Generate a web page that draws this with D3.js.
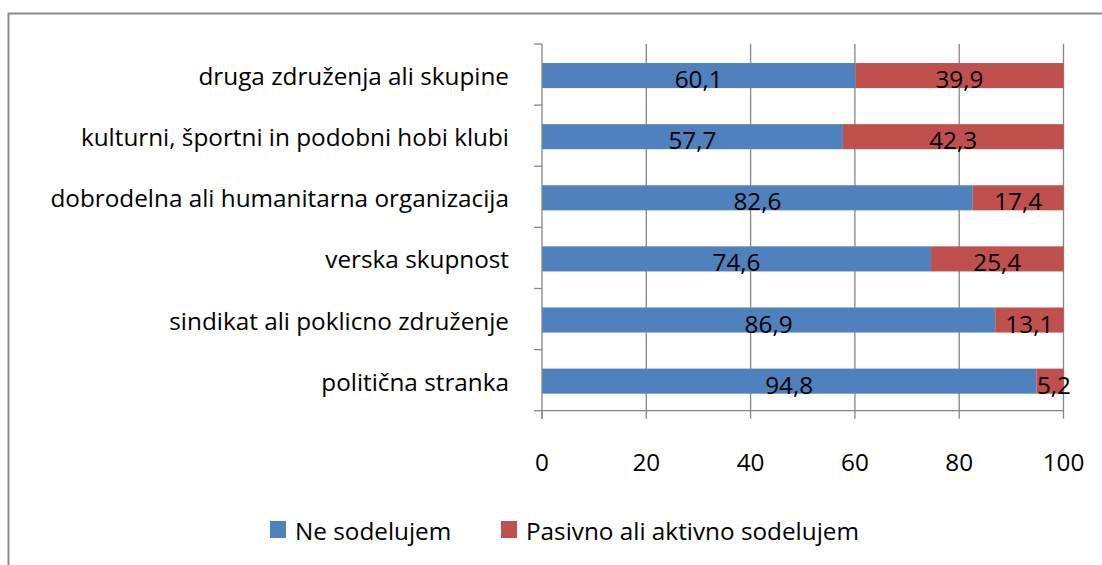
<!DOCTYPE html>
<html>
<head>
<meta charset="utf-8">
<script src="https://cdn.jsdelivr.net/npm/d3@7"></script>
<style>
  html, body { margin: 0; padding: 0; background: #fff; }
  svg { display: block; }
  text { font-family: "Open Sans", "DejaVu Sans", sans-serif; fill: #000; }
</style>
</head>
<body>
<svg id="chart" width="1102" height="565"></svg>
<script>
// Categories listed top to bottom
const categories = [
  "druga združenja ali skupine",
  "kulturni, športni in podobni hobi klubi",
  "dobrodelna ali humanitarna organizacija",
  "verska skupnost",
  "sindikat ali poklicno združenje",
  "politična stranka"
];
const seriesNames = ["Ne sodelujem", "Pasivno ali aktivno sodelujem"];
const neSodelujem = [60.1, 57.7, 82.6, 74.6, 86.9, 94.8];
const sodelujem   = [39.9, 42.3, 17.4, 25.4, 13.1, 5.2];
const xTicks = [0, 20, 40, 60, 80, 100];
const colors = ["#4F81BD", "#C0504D"];

const rows = categories.map((c, i) => ({ cat: c, s0: neSodelujem[i], s1: sodelujem[i] }));
const stack = d3.stack().keys(["s0", "s1"])(rows);

const svg = d3.select("#chart");
const plot = { left: 542, right: 1063.5, top: 44, bottom: 410.7 };
const fontSize = "24.3px";

// Chart frame (runs past the right and bottom edges)
svg.append("rect")
  .attr("x", 8.5).attr("y", 13.5)
  .attr("width", 1200).attr("height", 700)
  .attr("fill", "none").attr("stroke", "#8c8c8c").attr("stroke-width", 2);

const x = d3.scaleLinear().domain([0, 100]).range([plot.left, plot.right]);
const y = d3.scaleBand().domain(categories).range([plot.top, plot.bottom]).paddingInner(0.59).paddingOuter(0.295);
const yb = d3.scaleBand().domain(categories).range([plot.top, plot.bottom]);

const grid = "#868686";

// Vertical gridlines
svg.append("g").selectAll("line").data(xTicks.slice(1)).join("line")
  .attr("x1", d => x(d)).attr("x2", d => x(d))
  .attr("y1", plot.top).attr("y2", plot.bottom)
  .attr("stroke", grid).attr("stroke-width", 1.3);

// Bars
const layers = svg.append("g").selectAll("g").data(stack).join("g")
  .attr("fill", (d, i) => colors[i]);
layers.selectAll("rect").data(d => d).join("rect")
  .attr("x", d => x(d[0]))
  .attr("y", d => y(d.data.cat) + 1)
  .attr("width", d => x(d[1]) - x(d[0]))
  .attr("height", y.bandwidth());

// Value labels centred in each segment
layers.each(function (layer, li) {
  d3.select(this).selectAll("text").data(layer).join("text")
    .attr("x", d => (x(d[0]) + x(d[1])) / 2 + (li === 1 && (d[1] - d[0]) < 8 ? 4 : 0))
    .attr("y", d => y(d.data.cat) + 1 + y.bandwidth() / 2 + 3)
    .attr("text-anchor", "middle")
    .attr("dominant-baseline", "central")
    .attr("fill", "#000")
    .style("font-size", fontSize)
    .text(d => d3.format(".1f")(d[1] - d[0]).replace(".", ","));
});

// Y axis: line, category boundary ticks, labels
const yAxis = svg.append("g");
yAxis.append("line").attr("x1", plot.left).attr("x2", plot.left).attr("y1", plot.top).attr("y2", plot.bottom + 8)
  .attr("stroke", grid).attr("stroke-width", 1.3);
const bounds = categories.map(c => yb(c)).concat([plot.bottom]);
yAxis.selectAll("line.t").data(bounds).join("line").attr("class", "t")
  .attr("x1", plot.left - 8).attr("x2", plot.left)
  .attr("y1", d => d).attr("y2", d => d)
  .attr("stroke", grid).attr("stroke-width", 1.3);
yAxis.selectAll("text").data(categories).join("text")
  .attr("x", 509)
  .attr("y", d => y(d) + 1 + y.bandwidth() / 2)
  .attr("text-anchor", "end")
  .attr("dominant-baseline", "central")
  .style("font-size", fontSize)
  .text(d => d);

// X axis: baseline, ticks, labels
const xAxis = svg.append("g");
xAxis.append("line").attr("x1", plot.left).attr("x2", plot.right).attr("y1", plot.bottom).attr("y2", plot.bottom)
  .attr("stroke", grid).attr("stroke-width", 1.3);
xAxis.selectAll("line.t").data(xTicks).join("line").attr("class", "t")
  .attr("x1", d => x(d)).attr("x2", d => x(d))
  .attr("y1", plot.bottom).attr("y2", plot.bottom + 8)
  .attr("stroke", grid).attr("stroke-width", 1.3);
xAxis.selectAll("text").data(xTicks).join("text")
  .attr("x", d => x(d))
  .attr("y", 461)
  .attr("text-anchor", "middle")
  .attr("dominant-baseline", "central")
  .style("font-size", fontSize)
  .text(d => d);

// Legend
const legendX = [270, 501];
const legend = svg.append("g").selectAll("g").data(seriesNames).join("g")
  .attr("transform", (d, i) => `translate(${legendX[i]},521)`);
legend.append("rect").attr("width", 16).attr("height", 17).attr("fill", (d, i) => colors[i]);
legend.append("text").attr("x", 25).attr("y", 9)
  .attr("dominant-baseline", "central")
  .style("font-size", fontSize)
  .text(d => d);
</script>
</body>
</html>
